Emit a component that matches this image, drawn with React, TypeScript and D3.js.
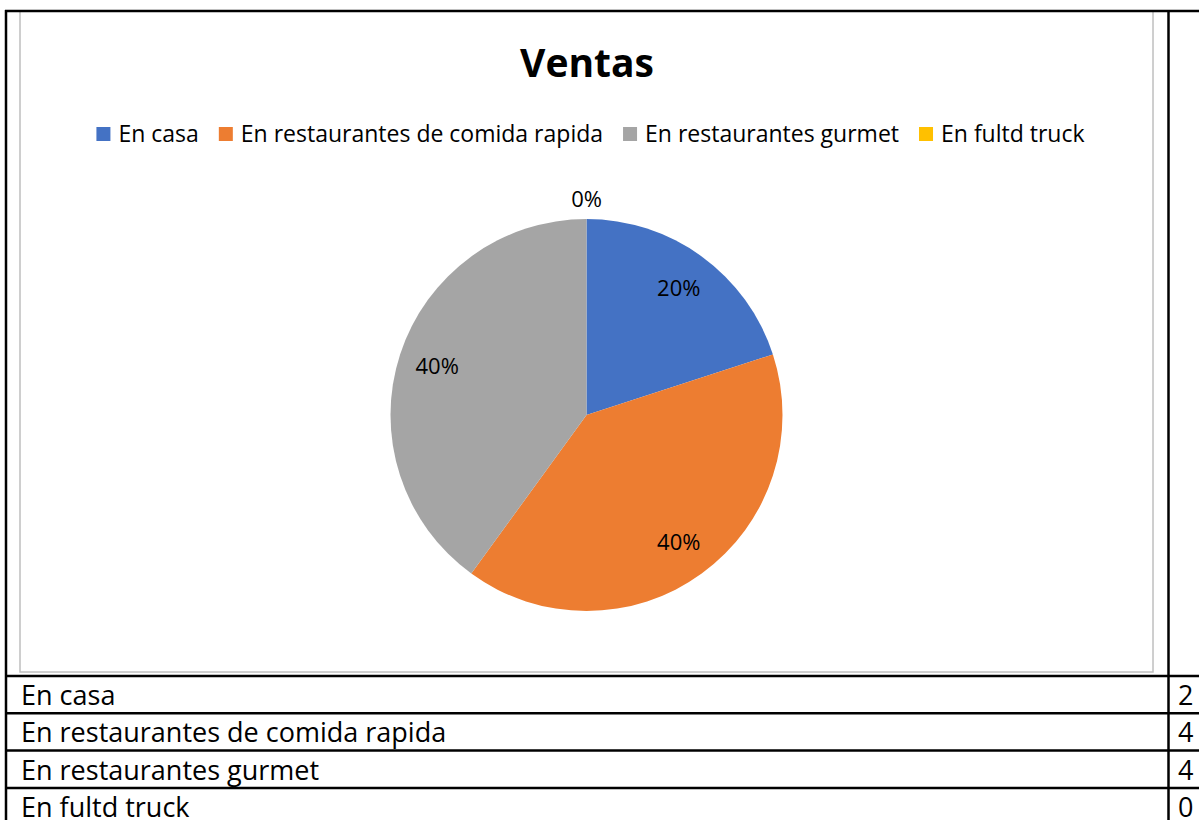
import React, { useEffect, useRef } from 'react';
import * as d3 from 'd3';

const title = 'Ventas';
const categories = [
  'En casa',
  'En restaurantes de comida rapida',
  'En restaurantes gurmet',
  'En fultd truck',
];
const values = [2, 4, 4, 0];
const colors = ['#4472C4', '#ED7D31', '#A5A5A5', '#FFC000'];

export default function App() {
  const ref = useRef<SVGSVGElement>(null);

  useEffect(() => {
    const svg = d3.select(ref.current);
    svg.selectAll('*').remove();
    const W = 1199;
    const H = 820;
    const font = '"Open Sans", Lato, sans-serif';

    svg.append('rect').attr('width', W).attr('height', H).attr('fill', '#fff');

    // chart frame
    svg
      .append('rect')
      .attr('x', 20)
      .attr('y', 11)
      .attr('width', 1133)
      .attr('height', 661)
      .attr('fill', '#fff')
      .attr('stroke', '#BFBFBF')
      .attr('stroke-width', 1.5);

    // title
    svg
      .append('text')
      .attr('x', 587)
      .attr('y', 77)
      .attr('text-anchor', 'middle')
      .attr('font-family', font)
      .attr('font-weight', 700)
      .attr('font-size', 39)
      .attr('fill', '#000')
      .text(title);

    // legend
    const lg = svg.append('g').attr('font-family', font).attr('font-size', 23);
    const items = categories.map((c, i) => {
      const gi = lg.append('g');
      gi.append('rect').attr('width', 14).attr('height', 14).attr('y', 127).attr('fill', colors[i]);
      const t = gi.append('text').attr('x', 22).attr('y', 142).attr('fill', '#000').text(c);
      const w = (t.node() as SVGTextElement).getComputedTextLength();
      return { gi, w: 22 + w };
    });
    const gap = 20;
    const totalW = d3.sum(items, (d) => d.w) + gap * (items.length - 1);
    let x0 = 590.5 - totalW / 2;
    items.forEach((it) => {
      it.gi.attr('transform', `translate(${x0},0)`);
      x0 += it.w + gap;
    });

    // pie
    const cx = 586.5;
    const cy = 415;
    const R = 196;
    const pie = d3.pie<number>().value((d) => d).sort(null);
    const arcs = pie(values);
    const arc = d3.arc<d3.PieArcDatum<number>>().innerRadius(0).outerRadius(R);
    const g = svg.append('g').attr('transform', `translate(${cx},${cy})`);
    g.selectAll('path')
      .data(arcs)
      .join('path')
      .attr('d', arc as any)
      .attr('fill', (_d, i) => colors[i]);

    const total = d3.sum(values);
    const inArc = d3.arc<d3.PieArcDatum<number>>().innerRadius(157).outerRadius(157);
    const outArc = d3.arc<d3.PieArcDatum<number>>().innerRadius(216).outerRadius(216);
    const fmt = d3.format('.0%');
    g.selectAll('text.lbl')
      .data(arcs)
      .join('text')
      .attr('class', 'lbl')
      .attr('transform', (d) => {
        const [x, y] = (d.value === 0 ? outArc : inArc).centroid(d);
        return `translate(${x},${y})`;
      })
      .attr('text-anchor', 'middle')
      .attr('dy', '0.36em')
      .attr('font-family', font)
      .attr('font-size', 22)
      .attr('fill', '#000')
      .text((d) => fmt(d.value / total));

    // table
    const rowTop = 676;
    const rowH = 37.3;
    const tg = svg.append('g').attr('font-family', font).attr('font-size', 27).attr('fill', '#000');
    categories.forEach((c, i) => {
      const y = rowTop + i * rowH + 29;
      tg.append('text').attr('x', 21).attr('y', y).text(c);
      tg.append('text').attr('x', 1178).attr('y', y).text(String(values[i]));
    });

    const lines = svg.append('g').attr('stroke', '#000').attr('stroke-width', 2.5);
    lines.append('line').attr('x1', 5).attr('x2', W).attr('y1', 11).attr('y2', 11);
    lines.append('line').attr('x1', 6).attr('x2', 6).attr('y1', 10).attr('y2', H);
    lines.append('line').attr('x1', 1168.5).attr('x2', 1168.5).attr('y1', 10).attr('y2', H);
    d3.range(4).forEach((i) => {
      const y = rowTop + i * rowH;
      lines.append('line').attr('x1', 5).attr('x2', W).attr('y1', y).attr('y2', y);
    });
  }, []);

  return (
    <svg
      ref={ref}
      width={1199}
      height={820}
      style={{ position: 'absolute', left: 0, top: 0, display: 'block' }}
    />
  );
}
